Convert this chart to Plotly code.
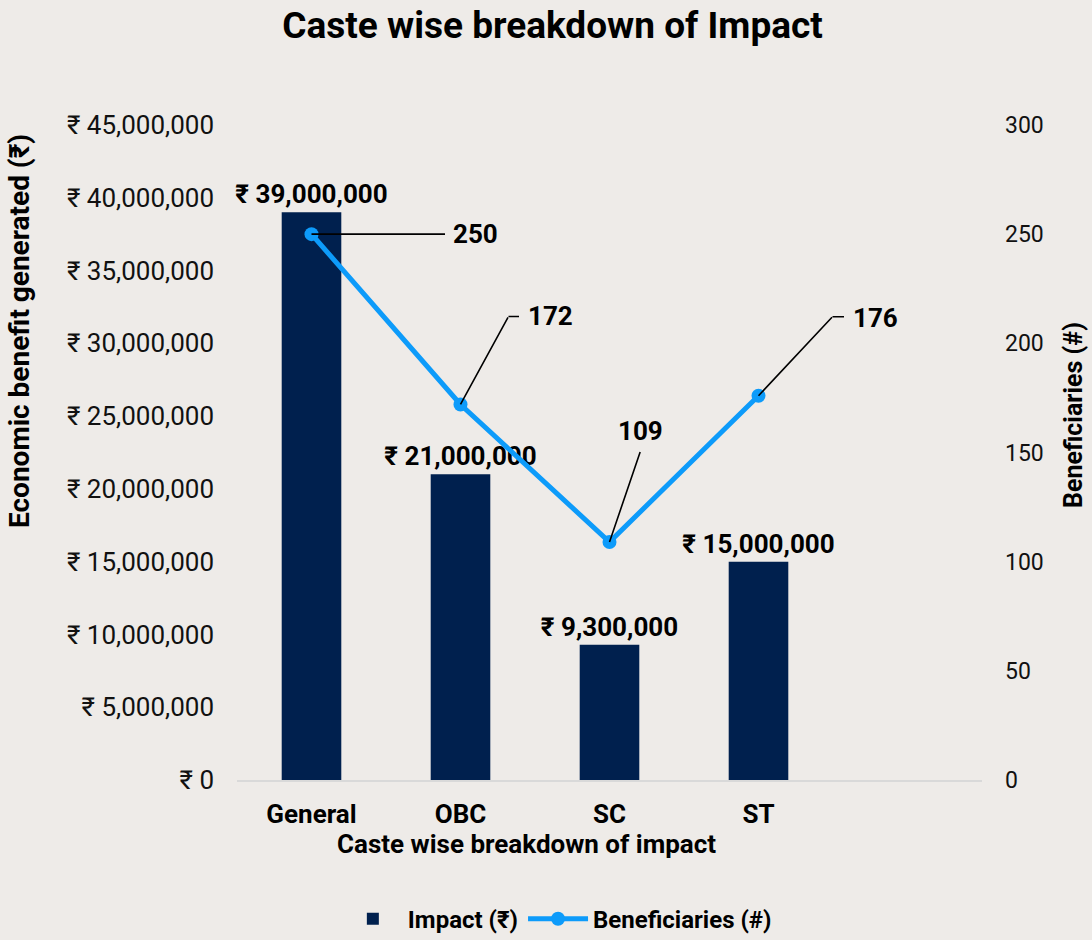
import plotly.graph_objects as go

categories = ["General", "OBC", "SC", "ST"]
impact = [39000000, 21000000, 9300000, 15000000]
beneficiaries = [250, 172, 109, 176]
impact_labels = ["₹ 39,000,000", "₹ 21,000,000", "₹ 9,300,000", "₹ 15,000,000"]

# leader-line geometry for beneficiary labels (pixel offsets from the point)
elbow_offsets = [(134, 0), (48, -88), (31, -91), (74, -79)]
elbow_runs = [0, 11, 0, 12]
label_offsets = [(164, 0), (90, -88), (31, -111), (117, -78)]

BG = "#EEEBE8"
NAVY = "#00204E"
BLUE = "#0D9BFA"
FONT = "Roboto"

x_all = categories + [" "]

fig = go.Figure()
fig.add_trace(go.Bar(
    x=categories, y=impact, name="Impact (₹)",
    marker=dict(color=NAVY, line=dict(width=0)),
    width=0.4,
    text=impact_labels, textposition="outside", constraintext="none",
    cliponaxis=False,
    textfont=dict(family=FONT, size=26, color="#000000", weight="bold"),
))
fig.add_trace(go.Scatter(
    x=categories, y=beneficiaries, name="Beneficiaries (#)", yaxis="y2",
    mode="lines+markers",
    line=dict(color=BLUE, width=5),
    marker=dict(color=BLUE, size=14),
    cliponaxis=False,
))

for c, v, (ex, ey), run, (lx, ly) in zip(categories, beneficiaries, elbow_offsets,
                                        elbow_runs, label_offsets):
    fig.add_annotation(
        x=c, y=v, xref="x", yref="y2", text=" ",
        showarrow=True, arrowhead=0, arrowwidth=1.6, arrowcolor="#000000",
        ax=ex, ay=ey, standoff=0, borderpad=0, font=dict(size=1),
    )
    if run:
        fig.add_annotation(
            x=c, y=v, xref="x", yref="y2", text=" ",
            xshift=ex, yshift=-ey,
            showarrow=True, arrowhead=0, arrowwidth=1.6, arrowcolor="#000000",
            ax=run, ay=0, standoff=0, borderpad=0, font=dict(size=1),
        )
    fig.add_annotation(
        x=c, y=v, xref="x", yref="y2", text=f"<b>{v}</b>",
        showarrow=False, xshift=lx, yshift=-ly,
        font=dict(family=FONT, size=26, color="#000000"),
    )

# axis titles
fig.add_annotation(
    x=0.389, y=-0.072, xref="paper", yref="paper", xanchor="center", yanchor="top",
    text="<b>Caste wise breakdown of impact</b>", showarrow=False,
    font=dict(family=FONT, size=26, color="#000000"),
)
fig.add_annotation(
    x=-0.2913, y=0.6855, xref="paper", yref="paper", xanchor="center", yanchor="middle",
    text="<b>Economic benefit generated (₹)</b>", showarrow=False, textangle=-90,
    font=dict(family=FONT, size=28, color="#000000"),
)
fig.add_annotation(
    x=1.1235, y=0.5573, xref="paper", yref="paper", xanchor="center", yanchor="middle",
    text="<b>Beneficiaries (#)</b>", showarrow=False, textangle=-90,
    font=dict(family=FONT, size=25, color="#000000"),
)

fig.update_layout(
    width=1092, height=940,
    paper_bgcolor=BG, plot_bgcolor=BG,
    margin=dict(l=237, r=110, t=125, b=160, autoexpand=False),
    title=dict(text="<b>Caste wise breakdown of Impact</b>", x=0.506, xanchor="center",
               y=0.973, yanchor="middle",
               font=dict(family=FONT, size=37, color="#000000")),
    font=dict(family=FONT, color="#000000"),
    showlegend=True,
    legend=dict(orientation="h", x=0.43, xanchor="center", y=-0.178, yanchor="top",
                font=dict(family=FONT, size=24, color="#000000", weight="bold"),
                bgcolor="rgba(0,0,0,0)", itemwidth=60),
    hovermode=False,
    xaxis=dict(
        categoryorder="array", categoryarray=x_all, range=[-0.5, 4.5],
        showgrid=False, showline=True, linecolor="#D9D9D9", linewidth=2,
        ticks="", tickfont=dict(family=FONT, size=26, color="#000000", weight="bold"),
        ticklabelstandoff=10, zeroline=False,
    ),
    yaxis=dict(
        range=[0, 45000000], dtick=5000000, tickprefix="₹ ", tickformat=",d",
        showgrid=False, zeroline=False, showline=False,
        tickfont=dict(family=FONT, size=26, color="#111111"),
        ticklabelstandoff=22,
    ),
    yaxis2=dict(
        overlaying="y", side="right", range=[0, 300], dtick=50,
        showgrid=False, zeroline=False, showline=False,
        tickfont=dict(family=FONT, size=23, color="#111111"),
        ticklabelstandoff=22,
    ),
)

fig.write_html("out.html", config={"displayModeBar": False},
               post_script="document.body.style.margin='0';document.body.style.overflow='hidden';")
